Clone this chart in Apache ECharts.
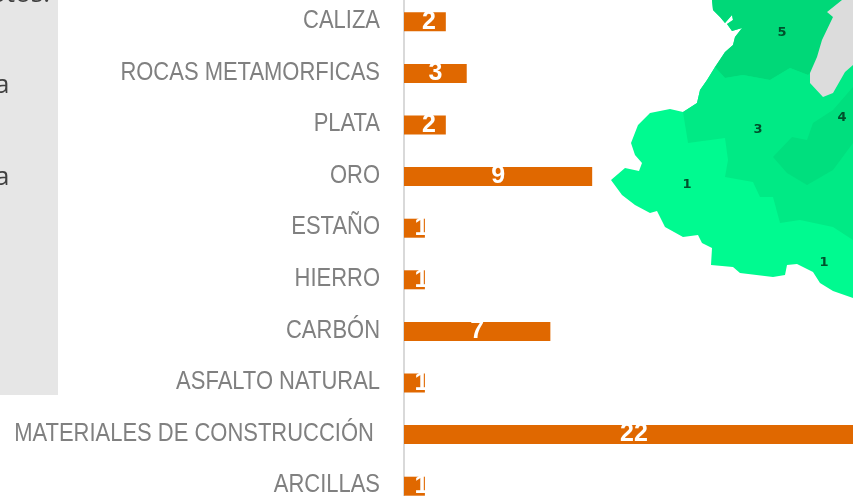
<!DOCTYPE html>
<html>
<head>
<meta charset="utf-8">
<style>
  html, body { margin: 0; padding: 0; background: #fff; overflow: hidden; }
  #chart { width: 853px; height: 496px; }
</style>
<script src="https://cdn.jsdelivr.net/npm/echarts@6/dist/echarts.min.js"></script>
</head>
<body>
<div id="chart"></div>
<script>
var categories = ['CALIZA', 'ROCAS METAMORFICAS', 'PLATA', 'ORO', 'ESTAÑO', 'HIERRO', 'CARBÓN', 'ASFALTO NATURAL', 'MATERIALES DE CONSTRUCCIÓN ', 'ARCILLAS'];
var values = [2, 3, 2, 9, 1, 1, 7, 1, 22, 1];

// el mapa de fondo es decoracion, va en pixeles (x, y)
var mapBase = [[712,0],[713,10],[720,17],[725,23],[732,15],[733,20],[727,24],[732,31],[742,28],[735,37],[733,45],[725,52],[715,67],[707,80],[700,90],[697,103],[683,112],[670,109],[650,113],[638,125],[631,143],[635,155],[642,163],[639,171],[625,168],[611,180],[622,195],[635,205],[650,213],[657,211],[665,227],[683,237],[698,235],[702,243],[712,248],[711,265],[733,267],[740,273],[773,277],[785,275],[787,265],[797,264],[813,272],[820,283],[833,291],[853,298],[853,0]];
var mapTop = [[712,0],[713,10],[720,17],[725,23],[732,15],[733,20],[727,24],[732,31],[742,28],[735,37],[733,45],[725,52],[715,67],[725,78],[743,75],[770,80],[790,68],[808,75],[825,60],[833,40],[853,10],[853,0]];
var mapMid = [[715,67],[707,80],[700,90],[697,103],[683,112],[688,143],[725,138],[728,160],[725,177],[753,182],[760,197],[773,197],[780,223],[800,220],[833,227],[853,240],[853,60],[825,60],[808,75],[790,68],[770,80],[743,75],[725,78]];
var mapPatch = [[773,157],[792,137],[807,140],[813,123],[833,110],[853,87],[853,143],[833,170],[807,185],[787,173]];
var mapLake = [[827,12],[842,0],[853,0],[853,65],[845,72],[833,93],[823,97],[810,83],[810,73],[817,57],[822,40],[833,17]];
var mapLabels = [['5', 782, 33], ['3', 758, 130], ['4', 842, 118], ['1', 687, 185], ['1', 824, 263]];

var labelShift = { 1: 7, 2: 4 };

function poly(points, color) {
  return { type: 'polygon', silent: true, shape: { points: points }, style: { fill: color } };
}

var graphics = [
  { type: 'rect', silent: true, shape: { x: 0, y: 0, width: 58, height: 395 }, style: { fill: '#e6e6e6' } },
  { type: 'text', silent: true, x: 50, y: 8, style: { text: 'otos:', fill: '#404040', font: '26px "Open Sans"', textAlign: 'right', textVerticalAlign: 'bottom' } },
  { type: 'text', silent: true, x: -5, y: 86, style: { text: 'a', fill: '#404040', font: '26px "Open Sans"', textVerticalAlign: 'middle' } },
  { type: 'text', silent: true, x: -5, y: 178, style: { text: 'a', fill: '#404040', font: '26px "Open Sans"', textVerticalAlign: 'middle' } },
  poly(mapBase, '#00fa90'),
  poly(mapMid, '#00ea85'),
  poly(mapPatch, '#00df7e'),
  poly(mapTop, '#00d878'),
  poly(mapLake, '#dcdcdc')
];
mapLabels.forEach(function(m) {
  graphics.push({ type: 'text', silent: true, x: m[1], y: m[2], style: { text: m[0], fill: '#00502c', font: 'bold 13px "DejaVu Sans"', textAlign: 'center', textVerticalAlign: 'middle' } });
});

var myChart = echarts.init(document.getElementById('chart'));
myChart.setOption({
  animation: false,
  graphic: graphics,
  grid: { left: 404, top: -4, width: 460, height: 516, containLabel: false, outerBoundsMode: 'none' },
  xAxis: { type: 'value', min: 0, max: 22, show: false },
  yAxis: {
    type: 'category',
    inverse: true,
    data: categories,
    axisTick: { show: false },
    axisLine: { show: true, lineStyle: { color: '#d9d9d9', width: 2 } },
    axisLabel: { show: false }
  },
  series: [{
    type: 'bar',
    barWidth: 19,
    itemStyle: { color: '#e06800' },
    data: values.map(function(v) {
      return {
        value: v,
        label: {
          show: true,
          position: 'inside',
          offset: [labelShift[v] || 0, 0],
          color: '#fff',
          fontFamily: '"Liberation Sans"',
          fontWeight: 'bold',
          fontSize: 25
        }
      };
    })
  }]
});

// las etiquetas del eje van angostas como en la imagen, por eso texto con scaleX
var catLabels = categories.map(function(c, i) {
  return {
    type: 'text',
    silent: true,
    x: 380,
    y: myChart.convertToPixel({ yAxisIndex: 0 }, i) - 1,
    scaleX: 0.845,
    style: { text: c, fill: '#808080', font: '26px "Liberation Sans"', textAlign: 'right', textVerticalAlign: 'middle' }
  };
});
myChart.setOption({ graphic: graphics.concat(catLabels) });
</script>
</body>
</html>
